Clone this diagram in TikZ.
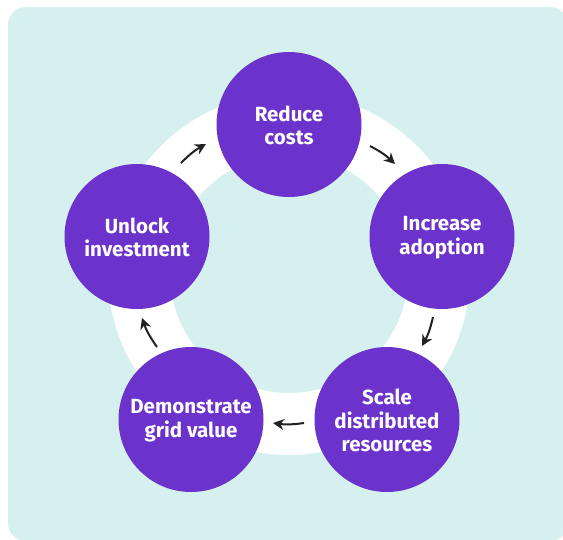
\documentclass[tikz,border=0pt]{standalone}
\usepackage{fontspec}
\setmainfont{Fira Sans}
\usetikzlibrary{arrows.meta}
\definecolor{panel}{HTML}{D6F0EF}
\definecolor{purp}{HTML}{6B32CC}
\definecolor{ink}{HTML}{222222}
\tikzset{
  stagecircle/.style={circle,fill=purp,minimum size=145pt,inner sep=0pt},
  stagetext/.style={text=white,align=center,inner sep=0pt,
    font=\fontsize{20.5}{23.5}\selectfont\bfseries},
  cyclearrow/.style={draw=ink,line width=2pt,-{Stealth[length=11pt,width=11pt]}}
}
\begin{document}
\begin{tikzpicture}[x=1pt,y=-1pt]
\useasboundingbox (0,0) rectangle (563,539);
\fill[white] (0,0) rectangle (563,539);
\fill[panel,rounded corners=18pt] (8,7) rectangle (568,541);
\fill[white,even odd rule] (289,274) circle[radius=181] (289,274) circle[radius=119];
\node[stagecircle] (a) at (289,124.5) {};
\node[stagecircle] (b) at (442,236.5) {};
\node[stagecircle] (c) at (387,419.5) {};
\node[stagecircle] (d) at (191,419.5) {};
\node[stagecircle] (e) at (137,236.5) {};
\node[stagetext] (at) at (289,125.5) {Reduce\\costs};
\node[stagetext] (bt) at (442,237.5) {Increase\\adoption};
\node[stagetext] (ct) at (387,420.5) {Scale\\distributed\\resources};
\node[stagetext] (dt) at (191,420.5) {Demonstrate\\grid value};
\node[stagetext] (et) at (137,237.5) {Unlock\\investment};
\coordinate (a1) at (181,163); \coordinate (a2) at (206,144);
\coordinate (b1) at (370,146); \coordinate (b2) at (395,164);
\coordinate (c1) at (433,317); \coordinate (c2) at (422,346);
\coordinate (d1) at (304,423); \coordinate (d2) at (273,423);
\coordinate (e1) at (157,347); \coordinate (e2) at (142,318);
\draw[cyclearrow] (a1) to[bend left=8] (a2);
\draw[cyclearrow] (b1) to[bend left=8] (b2);
\draw[cyclearrow] (c1) to[bend left=8] (c2);
\draw[cyclearrow] (d1) to[bend left=8] (d2);
\draw[cyclearrow] (e1) to[bend left=8] (e2);
\end{tikzpicture}
\end{document}
